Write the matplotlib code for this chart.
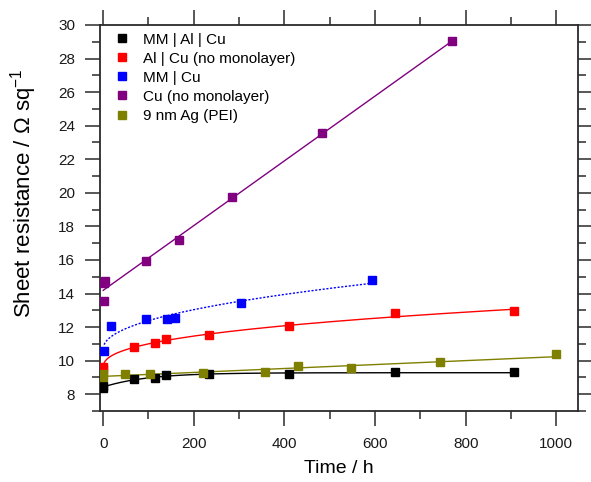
import numpy as np
import matplotlib
matplotlib.use("Agg")
import matplotlib.pyplot as plt
from matplotlib.lines import Line2D
from matplotlib.ticker import MultipleLocator

plt.rcParams['font.family'] = ['Liberation Sans', 'DejaVu Sans']
plt.rcParams['mathtext.fontset'] = 'custom'
plt.rcParams['mathtext.rm'] = 'Liberation Sans'
plt.rcParams['mathtext.it'] = 'Liberation Sans'

# ---- data (time in h, sheet resistance in ohm/sq) ----
labels = ["MM | Al | Cu", "Al | Cu (no monolayer)", "MM | Cu", "Cu (no monolayer)", "9 nm Ag (PEI)"]
colors = ["#000000", "#FF0000", "#0000FF", "#800080", "#808000"]

t_mmalcu = [0, 0, 69, 115, 139, 234, 410, 645, 907]
r_mmalcu = [8.35, 8.5, 8.89, 8.95, 9.13, 9.2, 9.2, 9.31, 9.31]

t_alcu = [0, 0, 69, 115, 139, 234, 410, 645, 907]
r_alcu = [9.5, 9.65, 10.8, 11.04, 11.28, 11.5, 12.05, 12.83, 12.95]

t_mmcu = [1, 18, 95, 141, 159, 305, 594]
r_mmcu = [10.56, 12.05, 12.47, 12.47, 12.53, 13.43, 14.8]

t_cu = [1, 2, 4, 95, 168, 285, 483, 770]
r_cu = [13.55, 14.6, 14.77, 15.93, 17.18, 19.75, 23.56, 29.05]

t_ag = [0, 0, 48, 104, 221, 357, 431, 547, 744, 1000]
r_ag = [9.05, 9.2, 9.19, 9.19, 9.24, 9.31, 9.67, 9.55, 9.9, 10.38]


# ---- fit helpers (fit curves computed from the data) ----
def fit_power(t, r):
    t = np.asarray(t, float); r = np.asarray(r, float)
    best = None
    for c in np.linspace(0.05, 1.0, 191):
        X = np.column_stack([np.ones_like(t), t ** c])
        coef, *_ = np.linalg.lstsq(X, r, rcond=None)
        res = np.sum((X @ coef - r) ** 2)
        if best is None or res < best[0]:
            best = (res, c, coef)
    _, c, coef = best
    return lambda x: coef[0] + coef[1] * np.asarray(x, float) ** c


def fit_sat(t, r):
    t = np.asarray(t, float); r = np.asarray(r, float)
    best = None
    for tau in np.linspace(10, 400, 391):
        X = np.column_stack([np.ones_like(t), 1 - np.exp(-t / tau)])
        coef, *_ = np.linalg.lstsq(X, r, rcond=None)
        res = np.sum((X @ coef - r) ** 2)
        if best is None or res < best[0]:
            best = (res, tau, coef)
    _, tau, coef = best
    return lambda x: coef[0] + coef[1] * (1 - np.exp(-np.asarray(x, float) / tau))


def fit_lin(t, r):
    p = np.polyfit(t, r, 1)
    return lambda x: np.polyval(p, x)


def grid(t0, t1):
    return np.unique(np.concatenate([np.linspace(t0, min(t1, 20), 200), np.linspace(t0, t1, 400)]))


fig = plt.figure(figsize=(5.91, 4.82), dpi=100)
ax = fig.add_axes([100 / 591, 1 - 411 / 482, 478 / 591, 386 / 482])

series = [
    (t_mmalcu, r_mmalcu, fit_sat, 0, 907, '-'),
    (t_alcu, r_alcu, fit_power, 0, 907, '-'),
    (t_mmcu, r_mmcu, fit_power, 2, 594, (0, (1.5, 1.2))),
    (t_cu, r_cu, fit_lin, 0, 770, '-'),
    (t_ag, r_ag, fit_lin, 0, 1000, '-'),
]

for (t, r, fitter, a, b, ls), col in zip(series, colors):
    f = fitter(t, r)
    xx = grid(a, b)
    ax.plot(xx, f(xx), color=col, lw=1.0, ls=ls, zorder=2)

for (t, r, *_), col in zip(series, colors):
    ax.plot(t, r, ls='none', marker='s', ms=5.2, color=col, mec=col, zorder=3)

ax.set_xlim(-7, 1048)
ax.set_ylim(7, 30)
ax.xaxis.set_major_locator(MultipleLocator(200))
ax.xaxis.set_minor_locator(MultipleLocator(100))
ax.yaxis.set_major_locator(MultipleLocator(2))
ax.yaxis.set_minor_locator(MultipleLocator(1))

spc = '#2a2a2a'
for s in ax.spines.values():
    s.set_linewidth(1.3)
    s.set_color(spc)

ax.tick_params(axis='both', which='both', direction='out', color=spc, width=1.1,
               labelsize=11, labelcolor='#1a1a1a')
ax.tick_params(axis='x', which='major', length=11, pad=8, top=True)
ax.tick_params(axis='x', which='minor', length=5.5, top=True)
ax.tick_params(axis='y', which='major', length=11, pad=7, right=True)
ax.tick_params(axis='y', which='minor', length=5.5, right=True)
ax.set_yticks(np.arange(8, 31, 2))

ax.set_xlabel("Time / h", fontsize=14, labelpad=6)
ax.set_ylabel("Sheet resistance / \u03A9 sq$^{-1}$", fontsize=16)
ax.yaxis.set_label_coords(-0.128, 0.565)

handles = [Line2D([], [], ls='none', marker='s', ms=5.2, color=c) for c in colors]
ax.legend(handles, labels, loc='upper left', bbox_to_anchor=(0.029, 0.98), frameon=False,
          fontsize=11, handlelength=1.0, handletextpad=0.9, labelspacing=0.33,
          borderpad=0, borderaxespad=0)

fig.savefig("out.png", dpi=100)
